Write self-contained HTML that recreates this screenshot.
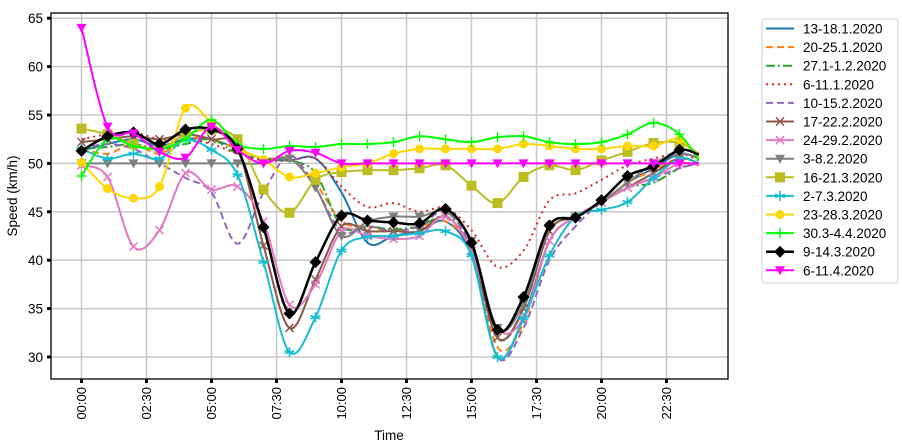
<!DOCTYPE html>
<html><head><meta charset="utf-8"><style>
body{margin:0;background:#fff;}
svg{display:block;font-family:"Liberation Sans","DejaVu Sans",sans-serif;}
</style></head><body>
<svg id="chart" width="902" height="444"></svg>
<script>
const hours=[0,1,2,3,4,5,6,7,8,9,10,11,12,13,14,15,16,17,18,19,20,21,22,23,23.75];
const xTickHours=[0,2.5,5,7.5,10,12.5,15,17.5,20,22.5];
const xTickLabels=["00:00","02:30","05:00","07:30","10:00","12:30","15:00","17:30","20:00","22:30"];
const yTicks=[30,35,40,45,50,55,60,65];
const seriesNames=["13-18.1.2020","20-25.1.2020","27.1-1.2.2020","6-11.1.2020","10-15.2.2020","17-22.2.2020","24-29.2.2020","3-8.2.2020","16-21.3.2020","2-7.3.2020","23-28.3.2020","30.3-4.4.2020","9-14.3.2020","6-11.4.2020"];
const sBlue=[51.3,52,52.5,51.8,52.5,52.5,51.5,50.5,50.3,50.5,47,41.8,42.5,43,44,40.5,30,34,42,44.5,46,48,49.5,51,50.5];
const sOrange=[51.5,51,52,51,52.5,52.5,51.5,50.5,50.5,48,44,43.5,43,43.5,44,41,31,33.5,42,44.5,46,48,49.3,50.5,50];
const sGreenDD=[51.5,51.7,52,51.5,52,52.5,51,50.5,50.3,49,43.5,43.5,43.2,43.5,44.5,42,32,35,43,44.5,46,47.5,48,49.5,50];
const sRed=[52.5,53,53.2,52.5,52.5,52,51,50.3,50.3,50.5,47.6,45.5,45.9,45,45.4,43.1,39.3,41,46.2,46.9,48.3,49.8,50.5,51,50.3];
const sPurple=[51.5,52,51.5,50,48.5,47,41.7,47,50.8,47.5,43,43.5,43,43.5,45,41,30,33,40,43.5,46,47.5,48.5,49.5,50];
const sBrown=[52.2,52.5,52.8,52.5,53,52.5,51.5,41.5,33,38,43.5,43,43,43,44.5,41,32,35,43,44.5,46,47.5,49,50.5,50];
const sPink=[49.8,48.6,41.4,43.1,49,47.3,47.6,44,35.4,37.5,43,42.5,42.2,42.5,44.5,41,33,34,42,44.5,46,47.5,48.5,50,49.8];
const sGray=[50,50,50,50,50,50,50,50,50.5,47.5,42.5,44,44.5,44.5,45,42,33,35.5,43.5,44.5,46,48,50,51,50.5];
const sOlive=[53.6,53,52,51.5,53,53.5,52.5,47.3,44.9,48.3,49.1,49.3,49.3,49.5,49.8,47.7,45.9,48.6,49.8,49.3,50.3,51.2,52.1,52.1,51];
const sCyan=[51.5,50.5,51,50.5,52.4,51.4,48.8,39.8,30.5,34.1,41,42.4,42.5,42.8,43,40.5,30,34,40.5,44.5,45.2,46,48.5,50.5,50];
const sYellow=[50.1,47.4,46.4,47.6,55.7,54.2,51.6,50.4,48.6,49,49.6,50,51,51.5,51.5,51.5,51.5,52,51.8,51.5,51.5,51.8,51.8,52.5,50.5];
const sLime=[48.7,52.5,51.8,51.5,52.5,54.5,52,51.5,51.8,51.7,52,52,52.2,52.8,52.5,52.2,52.7,52.8,52.2,52,52.2,53,54.2,53,50.3];
const sBlack=[51.3,52.8,53.2,52,53.5,53.5,51.5,43.4,34.5,39.8,44.6,44.1,43.9,43.8,45.3,41.8,32.8,36.2,43.6,44.4,46.2,48.7,49.7,51.4,50.9];
const sMagenta=[64,53.8,53.1,51.2,50.6,53.8,51.4,50,51.3,51.1,50,50,50,50,50,50,50,50,50,50,50,50,50,50,50];
const allSeries=[sBlue,sOrange,sGreenDD,sRed,sPurple,sBrown,sPink,sGray,sOlive,sCyan,sYellow,sLime,sBlack,sMagenta];
const styles=[
{c:"#1f77b4",w:2,d:"",m:""},{c:"#ff7f0e",w:2,d:"7,4",m:""},{c:"#2ca02c",w:2,d:"9,3,2,3",m:""},
{c:"#d62728",w:2,d:"2,4",m:""},{c:"#9467bd",w:2,d:"7,4",m:""},{c:"#8c564b",w:2,d:"",m:"x"},
{c:"#e377c2",w:2,d:"",m:"x"},{c:"#7f7f7f",w:2,d:"",m:"v"},{c:"#bcbd22",w:2,d:"",m:"s"},
{c:"#17becf",w:2,d:"",m:"*"},{c:"#ffd700",w:2,d:"",m:"o"},{c:"#00ff00",w:2,d:"",m:"+"},
{c:"#000000",w:2.5,d:"",m:"D"},{c:"#ff00ff",w:2,d:"",m:"v"}];
const NS="http://www.w3.org/2000/svg";
const svg=document.getElementById('chart');
const X=h=>81.5+h*26;
const Y=v=>163.4-(v-50)*9.68;
function el(t,a,p){const e=document.createElementNS(NS,t);for(const k in a)e.setAttribute(k,a[k]);(p||svg).appendChild(e);return e;}
const L=51,R=728,T=13,B=379;
// grid
xTickHours.forEach((h,i)=>{
 const g=el('line',{x1:X(h),x2:X(h),y1:T,y2:B,stroke:"#c8c8c8","stroke-width":1.5});
 
 
 const tk=el('line',{x1:X(h),x2:X(h),y1:B,y2:B+4,stroke:"#000","stroke-width":3});
 
 
 const t=el('text',{x:0,y:0,"font-size":13,"text-anchor":"end","dominant-baseline":"central",transform:`translate(${X(h)},${B+8}) rotate(-90)`});
 t.textContent=xTickLabels[i];
 
 
});
yTicks.forEach(v=>{
 const g=el('line',{x1:L,x2:R,y1:Y(v),y2:Y(v),stroke:"#c8c8c8","stroke-width":1.5});
 
 
 const tk=el('line',{x1:L-4,x2:L,y1:Y(v),y2:Y(v),stroke:"#000","stroke-width":3});
 
 
 const t=el('text',{x:L-8,y:Y(v)+5,"font-size":13.5,"text-anchor":"end"});
 t.textContent=String(v);
 
 
});
function smoothPath(pts){
 let d=`M${pts[0][0]},${pts[0][1]}`;
 for(let i=0;i<pts.length-1;i++){
  const p0=pts[i-1]||pts[i],p1=pts[i],p2=pts[i+1],p3=pts[i+2]||p2;
  const c1=[p1[0]+(p2[0]-p0[0])/6,p1[1]+(p2[1]-p0[1])/6];
  const c2=[p2[0]-(p3[0]-p1[0])/6,p2[1]-(p3[1]-p1[1])/6];
  d+=` C${c1[0]},${c1[1]} ${c2[0]},${c2[1]} ${p2[0]},${p2[1]}`;
 }
 return d;
}
function marker(g,m,x,y,c){
 let e;
 if(m==="x"){e=el('path',{d:`M${x-4},${y-4}L${x+4},${y+4}M${x-4},${y+4}L${x+4},${y-4}`,stroke:c,"stroke-width":1.5,fill:"none"},g);}
 else if(m==="+"){e=el('path',{d:`M${x-5},${y}L${x+5},${y}M${x},${y-5}L${x},${y+5}`,stroke:c,"stroke-width":1.5,fill:"none"},g);}
 else if(m==="v"){e=el('path',{d:`M${x-5},${y-4}L${x+5},${y-4}L${x},${y+5}Z`,fill:c},g);}
 else if(m==="s"){e=el('rect',{x:x-5,y:y-5,width:10,height:10,fill:c},g);}
 else if(m==="o"){e=el('circle',{cx:x,cy:y,r:4.5,fill:c},g);}
 else if(m==="D"){e=el('path',{d:`M${x},${y-6}L${x+6},${y}L${x},${y+6}L${x-6},${y}Z`,fill:c},g);}
 else if(m==="*"){e=el('path',{d:`M${x},${y-5}L${x},${y+5}M${x-5},${y-1.5}L${x+5},${y+1.5}M${x-5},${y+1.5}L${x+5},${y-1.5}`,stroke:c,"stroke-width":1.6,fill:"none"},g);}
 return e;
}
const clip=el('clipPath',{id:"pc"});el('rect',{x:L,y:T,width:R-L,height:B-T},clip);
allSeries.forEach((vals,si)=>{
 const st=styles[si];
 const g=el('g',{"clip-path":"url(#pc)"});
 
 
 const pts=vals.map((v,i)=>[X(hours[i]),Y(v)]);
 const p=el('path',{d:smoothPath(pts),fill:"none",stroke:st.c,"stroke-width":st.w,"stroke-dasharray":st.d,"stroke-linejoin":"round"},g);
 
 
 if(st.m){vals.forEach((v,i)=>{if(hours[i]%1!==0)return;
  const mk=marker(g,st.m,X(hours[i]),Y(v),st.c);
  
  });}
});
const frame=el('rect',{x:L,y:T,width:R-L,height:B-T,fill:"none",stroke:"#000","stroke-width":1.3});


const xt=el('text',{x:389,y:440,"font-size":13.5,"text-anchor":"middle"});xt.textContent="Time";


const yt=el('text',{x:0,y:0,"font-size":13.5,"text-anchor":"middle",transform:"translate(17,196) rotate(-90)"});yt.textContent="Speed (km/h)";


// legend
const lg=el('g',{});


el('rect',{x:762,y:19,width:136,height:264,rx:3,fill:"#fff",stroke:"#d0d0d0","stroke-width":1},lg);
seriesNames.forEach((n,i)=>{
 const st=styles[i];const y=28.5+i*18.6;
 const e=el('g',{},lg);
 
 
 el('line',{x1:766,x2:794,y1:y,y2:y,stroke:st.c,"stroke-width":st.w,"stroke-dasharray":st.d},e);
 if(st.m)marker(e,st.m,780,y,st.c);
 const t=el('text',{x:803,y:y+5,"font-size":13.5},e);t.textContent=n;
});
</script>
</body></html>
